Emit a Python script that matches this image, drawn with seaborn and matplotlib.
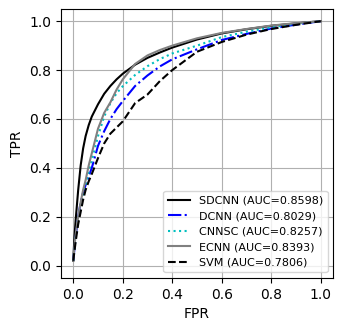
import numpy as np
import pandas as pd
import seaborn as sns
import matplotlib
matplotlib.use('Agg')
import matplotlib.pyplot as plt

# ROC points
fpr = [0, 0.005, 0.01, 0.02, 0.03, 0.04, 0.05, 0.0625, 0.075, 0.1, 0.125, 0.15, 0.175,
       0.2, 0.25, 0.3, 0.35, 0.4, 0.5, 0.6, 0.7, 0.8, 0.9, 1.0]
tpr_sdcnn = [0.02, 0.12, 0.19, 0.31, 0.41, 0.48, 0.53, 0.575, 0.61, 0.66, 0.703, 0.735, 0.762,
             0.785, 0.822, 0.85, 0.872, 0.892, 0.925, 0.95, 0.967, 0.981, 0.991, 1.0]
tpr_dcnn = [0.02, 0.07, 0.12, 0.2, 0.26, 0.3, 0.33, 0.365, 0.4, 0.49, 0.55, 0.6, 0.64,
            0.673, 0.735, 0.778, 0.815, 0.844, 0.885, 0.923, 0.948, 0.97, 0.986, 1.0]
tpr_cnnsc = [0.02, 0.07, 0.12, 0.19, 0.25, 0.29, 0.33, 0.385, 0.43, 0.53, 0.61, 0.665, 0.705,
             0.734, 0.78, 0.816, 0.845, 0.868, 0.9, 0.935, 0.957, 0.975, 0.99, 1.0]
tpr_ecnn = [0.02, 0.08, 0.13, 0.2, 0.26, 0.31, 0.35, 0.41, 0.46, 0.56, 0.625, 0.668, 0.72,
            0.762, 0.825, 0.86, 0.882, 0.9, 0.93, 0.952, 0.968, 0.982, 0.992, 1.0]
tpr_svm = [0.02, 0.06, 0.1, 0.17, 0.22, 0.27, 0.31, 0.345, 0.375, 0.44, 0.5, 0.54, 0.565,
           0.59, 0.665, 0.70, 0.755, 0.80, 0.875, 0.915, 0.945, 0.968, 0.985, 1.0]

labels = ['SDCNN (AUC=0.8598)', 'DCNN (AUC=0.8029)', 'CNNSC (AUC=0.8257)',
          'ECNN (AUC=0.8393)', 'SVM (AUC=0.7806)']
series = [tpr_sdcnn, tpr_dcnn, tpr_cnnsc, tpr_ecnn, tpr_svm]
colors = ['black', 'blue', 'c', 'gray', 'black']
styles = ['-', '-.', ':', '-', '--']

fig = plt.figure(figsize=(3.42, 3.32), dpi=100)
ax = fig.add_axes([0.178, 0.163, 0.796, 0.81])

for tpr, lab, c, ls in zip(series, labels, colors, styles):
    sns.lineplot(x=fpr, y=tpr, ax=ax, color=c, linestyle=ls, linewidth=1.5,
                 label=lab, sort=False, estimator=None)

ax.set_xlim(-0.05, 1.05)
ax.set_ylim(-0.05, 1.05)
ax.set_xticks([0, 0.2, 0.4, 0.6, 0.8, 1.0])
ax.set_yticks([0, 0.2, 0.4, 0.6, 0.8, 1.0])
ax.grid(True, color='#b0b0b0', linewidth=0.8)
ax.set_axisbelow(True)
ax.set_xlabel('FPR')
ax.set_ylabel('TPR')
ax.legend(loc='lower right', fontsize=8)

fig.savefig('out.png', dpi=100)
